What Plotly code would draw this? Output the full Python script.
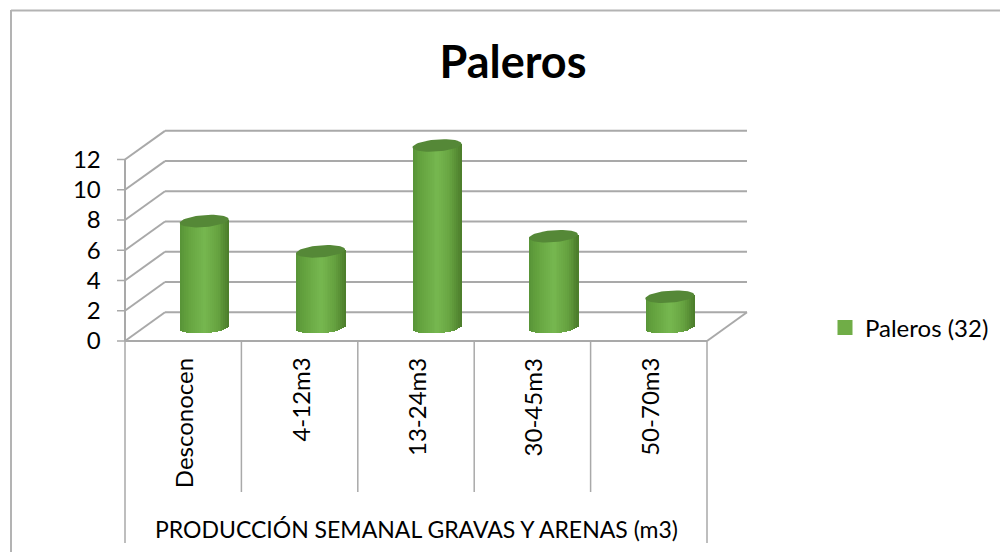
import plotly.graph_objects as go
import numpy as np

categories = ["Desconocen", "4-12m3", "13-24m3", "30-45m3", "50-70m3"]
values = [7, 5, 12, 6, 2]
series_name = "Paleros (32)"
title = "Paleros"
group_label = "PRODUCCIÓN SEMANAL GRAVAS Y ARENAS (m3)"
y_ticks = [0, 2, 4, 6, 8, 10, 12]

W, H = 1000, 552
FONT = "Lato"
GRID = "#a9a9a9"
# pixel frame of the pseudo-3D plot
X0, CAT_W = 125.0, 116.4      # front-left corner, category width
Y0, UNIT = 341.0, 15.12       # value 0 at the front, pixels per unit
DX_BACK, DY_BACK = 40 / CAT_W, 1.9   # depth offset of the back wall, in axis units
BAR_DX, BAR_DY = 21 / CAT_W, 0.93    # depth offset of the bars
BAR_W = 49 / CAT_W
RY = 0.40       # half height of the elliptical caps, value units
SKEW = 0.12     # caps rise slightly to the right

x_lo, x_hi = -0.7, 4.95
y_lo, y_hi = -0.5, 14.5
px_l = X0 + (x_lo + 0.5) * CAT_W
px_r = X0 + (x_hi + 0.5) * CAT_W
px_b = Y0 - y_lo * UNIT
px_t = Y0 - y_hi * UNIT
fx = lambda p: p / W
fy = lambda p: 1 - p / H

fig = go.Figure()

# cylinder bodies: narrow overlapping slices give the shading
N = 26
stops = np.array([0, 0.12, 0.5, 0.78, 1.0])
reds = np.array([0x58, 0x62, 0x77, 0x66, 0x4b])
greens = np.array([0x94, 0xa0, 0xb8, 0xa2, 0x7c])
blues = np.array([0x38, 0x3d, 0x50, 0x40, 0x2b])
cx = [i + BAR_DX for i in range(len(values))]
for k in range(N):
    t = (k + 0.5) / N
    u = 2 * t - 1
    col = "rgb(%d,%d,%d)" % (np.interp(t, stops, reds), np.interp(t, stops, greens), np.interp(t, stops, blues))
    base = [BAR_DY - RY * np.sqrt(1 - u * u) + SKEW * u for _ in values]
    tops = [v + BAR_DY + SKEW * u for v in values]
    fig.add_trace(go.Bar(
        x=cx, y=[a - b for a, b in zip(tops, base)], base=base,
        width=BAR_W / N * 1.25, offset=BAR_W * (t - 0.5) - BAR_W / N * 0.5,
        marker=dict(color=col, line=dict(width=0)),
        showlegend=False, hoverinfo="skip"))

# top caps
a = np.linspace(0, 2 * np.pi, 60)
for c, v in zip(cx, values):
    fig.add_trace(go.Scatter(
        x=c + BAR_W / 2 * np.cos(a),
        y=v + BAR_DY + RY * np.sin(a) + SKEW * np.cos(a),
        mode="lines", fill="toself", fillcolor="#558837",
        line=dict(width=0, color="#558837"),
        showlegend=False, hoverinfo="skip"))

# legend entry
fig.add_trace(go.Scatter(
    x=[None], y=[None], mode="markers", name=series_name,
    marker=dict(symbol="square", size=15, color="#70ad47")))

shapes = []
line = dict(color=GRID, width=2)
thin = dict(color=GRID, width=1.5)
xl, xr = -0.5, len(categories) - 0.5
for g in y_ticks:
    shapes.append(dict(type="line", xref="x", yref="y", x0=xl, y0=g, x1=xl + DX_BACK, y1=g + DY_BACK, line=line, layer="below"))
    shapes.append(dict(type="line", xref="x", yref="y", x0=xl + DX_BACK, y0=g + DY_BACK, x1=xr + DX_BACK, y1=g + DY_BACK, line=line, layer="below"))
    # small tick to the left of the value axis
    shapes.append(dict(type="line", xref="paper", yref="y", x0=fx(X0 - 8), x1=fx(X0), y0=g, y1=g, line=thin, layer="below"))
# floor front and right edge
shapes.append(dict(type="line", xref="x", yref="y", x0=xl, y0=0, x1=xr, y1=0, line=line, layer="below"))
shapes.append(dict(type="line", xref="x", yref="y", x0=xr, y0=0, x1=xr + DX_BACK, y1=DY_BACK, line=line, layer="below"))
# value axis line
shapes.append(dict(type="line", xref="x", yref="y", x0=xl, y0=0, x1=xl, y1=y_ticks[-1], line=line, layer="below"))
# category separators below the axis
for i in range(len(categories) + 1):
    bottom = 543 if i in (0, len(categories)) else 492
    xp = X0 + i * CAT_W
    shapes.append(dict(type="line", xref="paper", yref="paper", x0=fx(xp), x1=fx(xp), y0=fy(Y0), y1=fy(bottom), line=thin))
# chart frame
shapes.append(dict(type="line", xref="paper", yref="paper", x0=fx(11), x1=fx(11), y0=fy(10), y1=0, line=dict(color="#b3b3b3", width=2)))
shapes.append(dict(type="line", xref="paper", yref="paper", x0=fx(11), x1=1, y0=fy(10.5), y1=fy(10.5), line=dict(color="#b3b3b3", width=2)))

annotations = [dict(x=i, y=fy(356), xref="x", yref="paper", text=c, textangle=-90, showarrow=False,
                    font=dict(family=FONT, size=24, color="#000000"), xanchor="center", yanchor="top")
               for i, c in enumerate(categories)]
annotations.append(dict(x=fx(416.5), y=fy(529), xref="paper", yref="paper", text=group_label, showarrow=False,
                        font=dict(family=FONT, size=23, color="#000000"), xanchor="center", yanchor="middle"))

fig.update_layout(
    width=W, height=H, autosize=False,
    margin=dict(l=0, r=0, t=0, b=0),
    paper_bgcolor="white", plot_bgcolor="rgba(0,0,0,0)",
    barmode="overlay", bargap=0,
    title=dict(text=f"<b>{title}</b>", x=fx(513), xanchor="center", y=fy(62), yanchor="middle",
               font=dict(family=FONT, size=45, color="#000000")),
    xaxis=dict(domain=[fx(px_l), fx(px_r)], range=[x_lo, x_hi], showgrid=False, zeroline=False,
               showticklabels=False, ticks="", showline=False, automargin=False),
    yaxis=dict(domain=[fy(px_b), fy(px_t)], range=[y_lo, y_hi], showgrid=False, zeroline=False,
               tickmode="array", tickvals=y_ticks, ticktext=[str(v) for v in y_ticks],
               tickfont=dict(family=FONT, size=24, color="#000000"),
               showline=False, ticks="", ticklabelstandoff=0, automargin=False),
    legend=dict(x=fx(825), y=fy(328), xanchor="left", yanchor="middle", bgcolor="rgba(0,0,0,0)",
                font=dict(family=FONT, size=24, color="#000000")),
    shapes=shapes, annotations=annotations, showlegend=True,
)
fig.write_html("out.html", config={"displayModeBar": False},
               post_script="document.body.style.margin='0';document.documentElement.style.overflow='hidden';")
